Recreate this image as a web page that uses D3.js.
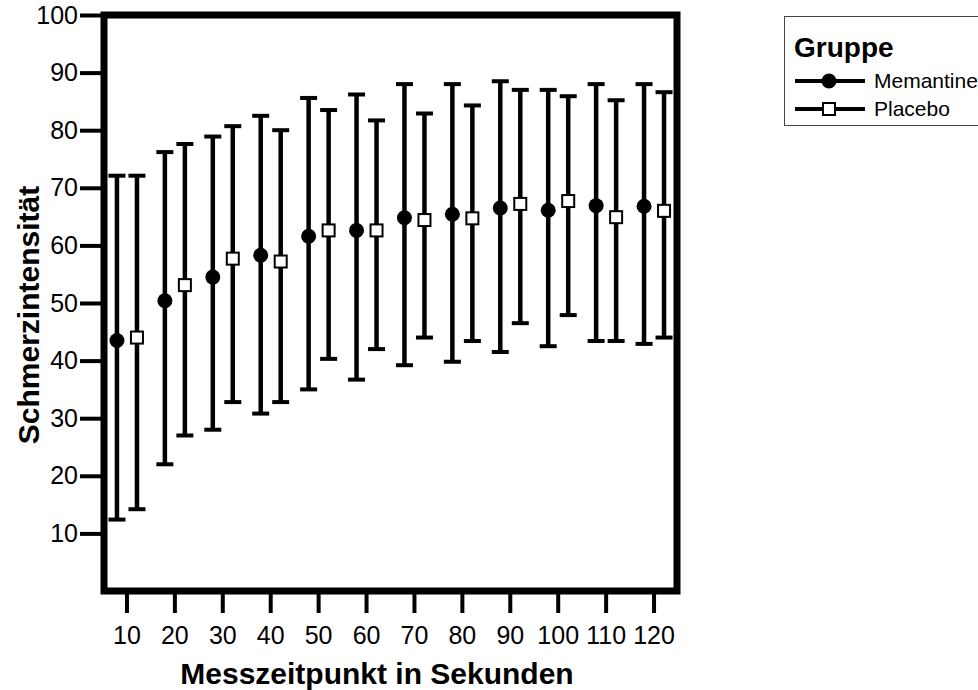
<!DOCTYPE html>
<html>
<head>
<meta charset="utf-8">
<script src="https://cdn.jsdelivr.net/npm/d3@7"></script>
<style>
	body { margin: 0; background: #fff; }
	svg text { font-family: "Liberation Sans", Arial, sans-serif; fill: #000; }
	.axis path.domain { display: none; }
	.axis line { stroke: #000; stroke-width: 4; }
	.axis text { font-size: 25px; }
	.title { font-size: 30px; font-weight: bold; }
</style>
</head>
<body>
<div id="chart"></div>
<script>
// time points (seconds)
var categories = ["10", "20", "30", "40", "50", "60", "70", "80", "90", "100", "110", "120"];
var groups = ["Memantine", "Placebo"];
var yTicks = [10, 20, 30, 40, 50, 60, 70, 80, 90, 100];

// Memantine: mean and error bar ends
var memMean = [43.5, 50.4, 54.5, 58.3, 61.6, 62.6, 64.8, 65.4, 66.5, 66.1, 66.9, 66.8];
var memHigh = [72.1, 76.2, 78.9, 82.5, 85.6, 86.2, 88.0, 88.0, 88.5, 87.0, 88.0, 88.0];
var memLow  = [12.4, 22.0, 28.0, 30.8, 35.0, 36.7, 39.2, 39.8, 41.5, 42.5, 43.4, 42.9];

// Placebo
var plaMean = [44.0, 53.1, 57.7, 57.2, 62.6, 62.6, 64.4, 64.7, 67.2, 67.7, 64.9, 66.0];
var plaHigh = [72.1, 77.6, 80.7, 80.0, 83.5, 81.7, 82.9, 84.3, 87.0, 85.9, 85.2, 86.6];
var plaLow  = [14.2, 27.0, 32.8, 32.8, 40.3, 42.0, 44.0, 43.4, 46.5, 47.9, 43.4, 44.0];

var W = 978, H = 690;

var svg = d3.select("#chart").append("svg")
	.attr("width", W)
	.attr("height", H);

var x = d3.scaleBand()
	.domain(categories)
	.range([103, 678]);
var xg = d3.scaleBand()
	.domain(groups)
	.range([-20, 20]);
var y = d3.scaleLinear()
	.domain([0, 100])
	.range([591, 15]);

var rows = [];
categories.forEach(function(c, i) {
	rows.push({cat: c, group: "Memantine", mean: memMean[i], hi: memHigh[i], lo: memLow[i]});
	rows.push({cat: c, group: "Placebo", mean: plaMean[i], hi: plaHigh[i], lo: plaLow[i]});
});
function cx(d) { return x(d.cat) + x.bandwidth() / 2 + xg(d.group) + xg.bandwidth() / 2; }

// axes
svg.append("g")
	.attr("class", "axis")
	.attr("transform", "translate(104,0)")
	.call(d3.axisLeft(y).tickValues(yTicks).tickSize(24).tickPadding(2));

svg.append("g")
	.attr("class", "axis")
	.attr("transform", "translate(0,591)")
	.call(d3.axisBottom(x).tickSize(22).tickPadding(13));

// error bars
var bars = svg.append("g").attr("class", "bars");
bars.selectAll(".stem")
	.data(rows)
	.enter().append("line")
	.attr("x1", cx).attr("x2", cx)
	.attr("y1", function(d) { return y(d.hi); })
	.attr("y2", function(d) { return y(d.lo); })
	.attr("stroke", "#000")
	.attr("stroke-width", 4.5);
["hi", "lo"].forEach(function(k) {
	bars.selectAll(".cap-" + k)
		.data(rows)
		.enter().append("line")
		.attr("x1", function(d) { return cx(d) - 8.5; })
		.attr("x2", function(d) { return cx(d) + 8.5; })
		.attr("y1", function(d) { return y(d[k]); })
		.attr("y2", function(d) { return y(d[k]); })
		.attr("stroke", "#000")
		.attr("stroke-width", 4);
});

// frame
svg.append("rect")
	.attr("x", x.range()[0] + 1)
	.attr("y", y(100))
	.attr("width", x.range()[1] - x.range()[0] - 2)
	.attr("height", y(0) - y(100))
	.attr("fill", "none")
	.attr("stroke", "#000")
	.attr("stroke-width", 7);

// markers
function marker(sel, group) {
	if (group == "Memantine") {
		sel.append("circle").attr("r", 7.5).attr("fill", "#000");
	} else {
		sel.append("rect")
			.attr("x", -6).attr("y", -6)
			.attr("width", 12).attr("height", 12)
			.attr("fill", "#fff")
			.attr("stroke", "#000")
			.attr("stroke-width", 2);
	}
}
var pts = svg.append("g").attr("class", "points")
	.selectAll(".pt")
	.data(rows)
	.enter().append("g")
	.attr("transform", function(d) { return "translate(" + cx(d) + "," + y(d.mean) + ")"; });
pts.each(function(d) { marker(d3.select(this), d.group); });

// axis titles
svg.append("text")
	.attr("class", "title")
	.attr("text-anchor", "middle")
	.attr("x", 377)
	.attr("y", 684)
	.text("Messzeitpunkt in Sekunden");
svg.append("text")
	.attr("class", "title")
	.attr("text-anchor", "middle")
	.attr("transform", "translate(39,315) rotate(-90)")
	.text("Schmerzintensität");

// legend
var legend = svg.append("g").attr("class", "legend");
legend.append("rect")
	.attr("x", 784.5).attr("y", 16.5)
	.attr("width", 220).attr("height", 109)
	.attr("fill", "#fff")
	.attr("stroke", "#444")
	.attr("stroke-width", 1);
legend.append("text")
	.attr("x", 794).attr("y", 57)
	.style("font-size", "28px")
	.style("font-weight", "bold")
	.text("Gruppe");
groups.forEach(function(g, i) {
	var ly = 81 + i * 28;
	legend.append("line")
		.attr("x1", 795).attr("x2", 865)
		.attr("y1", ly).attr("y2", ly)
		.attr("stroke", "#000")
		.attr("stroke-width", 4);
	marker(legend.append("g").attr("transform", "translate(829," + ly + ")"), g);
	legend.append("text")
		.attr("x", 874).attr("y", ly + 7)
		.style("font-size", "21px")
		.text(g);
});
</script>
</body>
</html>
